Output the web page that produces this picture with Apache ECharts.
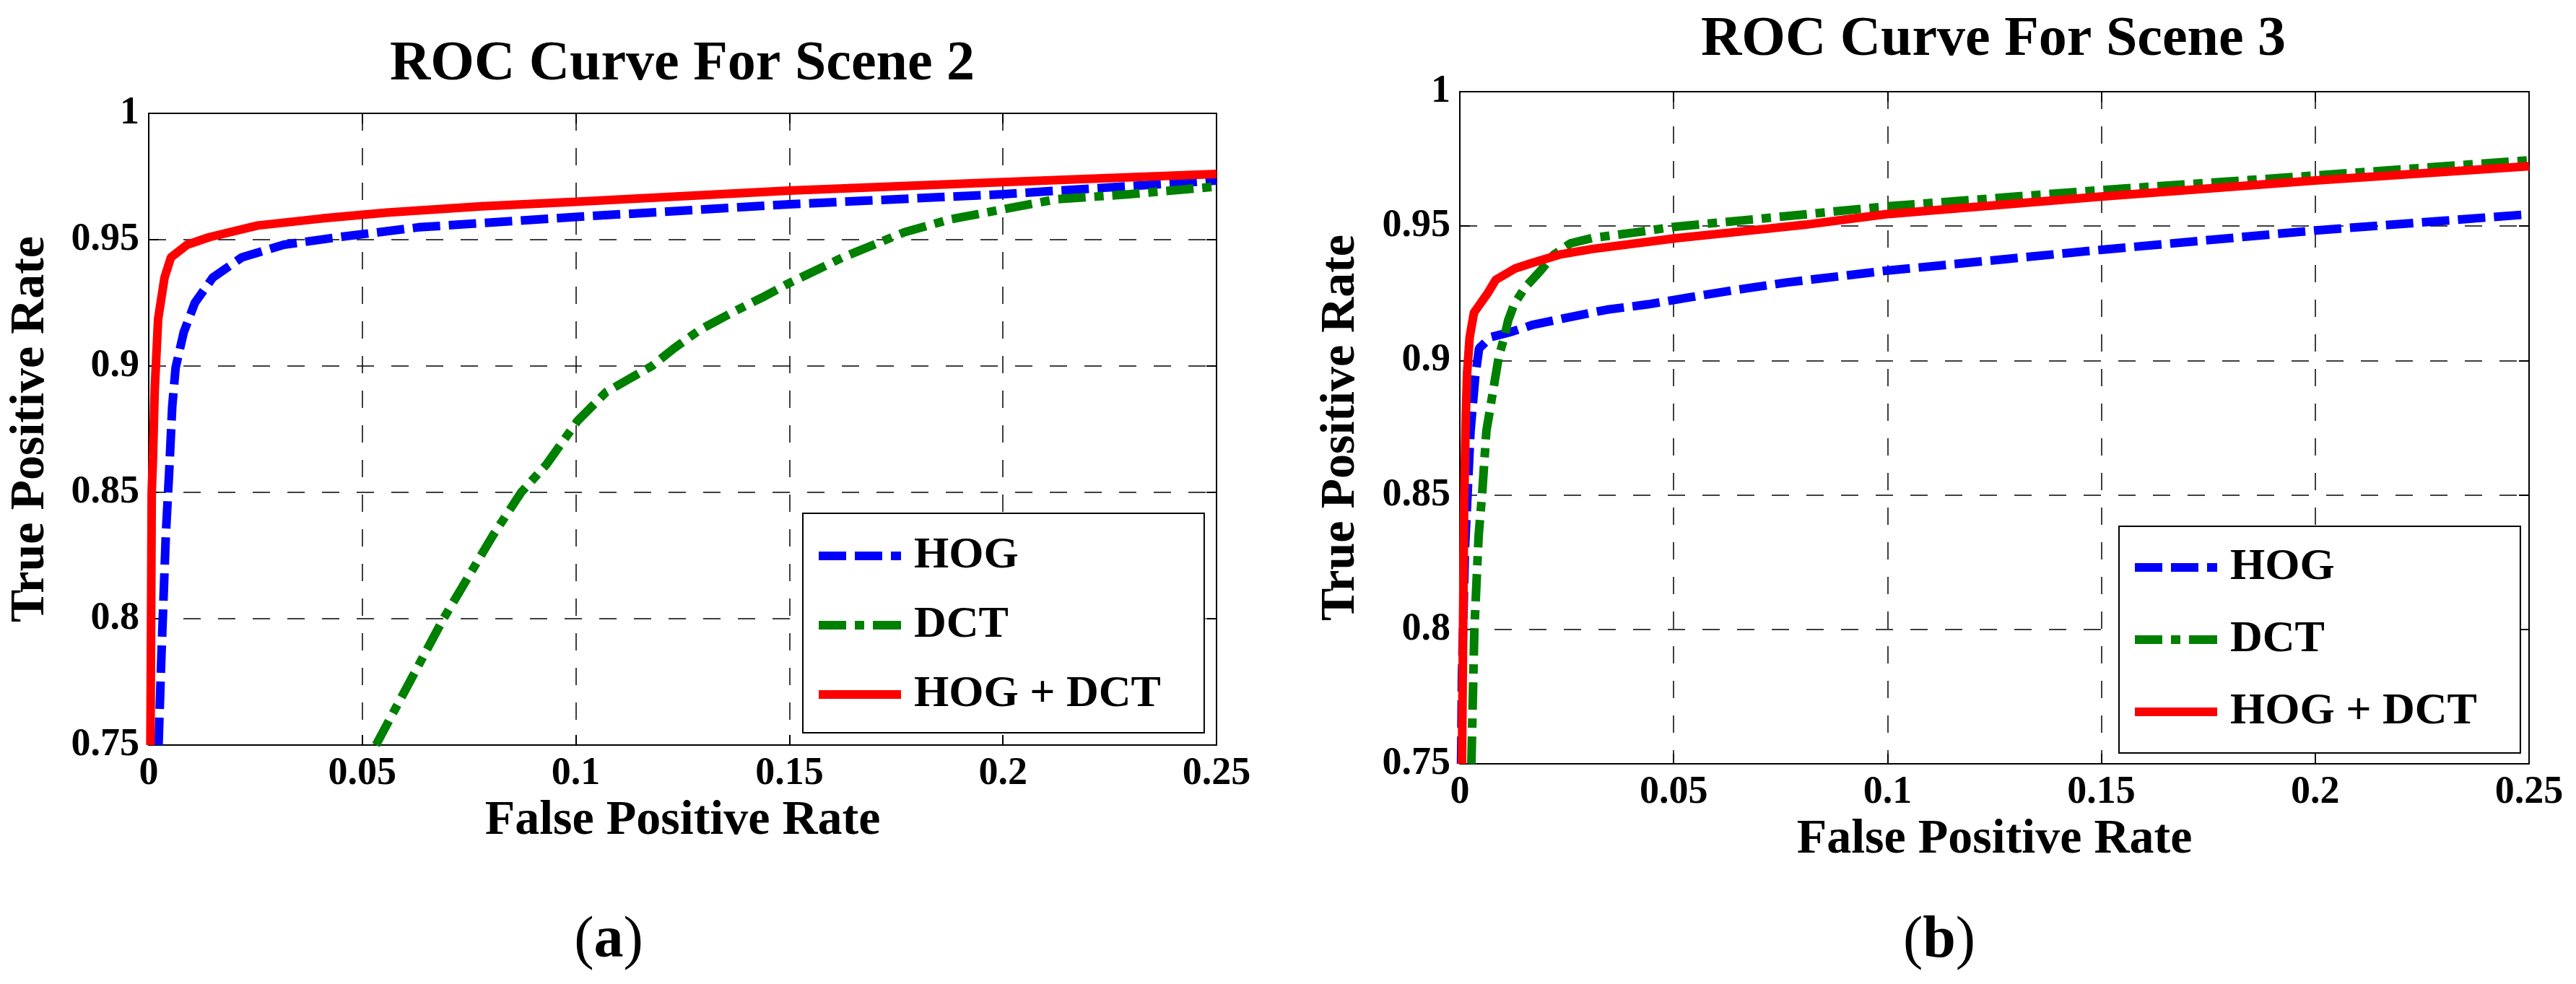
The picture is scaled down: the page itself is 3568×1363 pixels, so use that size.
<!DOCTYPE html>
<html>
<head>
<meta charset="utf-8">
<title>ROC Curves</title>
<script src="https://cdn.jsdelivr.net/npm/echarts@6/dist/echarts.min.js"></script>
<style>
    html, body { margin: 0; padding: 0; background: #fff; }
    #chart { width: 3568px; height: 1363px; }
</style>
</head>
<body>
<div id="chart"></div>
<script>
// tick labels
var xTicks = ["0", "0.05", "0.1", "0.15", "0.2", "0.25"];
var yTicks = ["0.75", "0.8", "0.85", "0.9", "0.95", "1"];
var legendNames = ["HOG", "DCT", "HOG + DCT"];

// Scene 2 (a)
var s2HogFpr = [0.0023, 0.0029, 0.004, 0.0048, 0.0055, 0.0063, 0.0082, 0.0108, 0.015, 0.0218, 0.0316, 0.0444, 0.0632, 0.1, 0.15, 0.2, 0.25];
var s2HogTpr = [0.75, 0.782, 0.833, 0.8586, 0.884, 0.8994, 0.9134, 0.925, 0.935, 0.943, 0.948, 0.951, 0.9549, 0.959, 0.964, 0.968, 0.9734];
var s2DctFpr = [0.0532, 0.069, 0.0806, 0.0872, 0.0931, 0.1004, 0.1071, 0.1178, 0.1229, 0.129, 0.1364, 0.1443, 0.1497, 0.1625, 0.177, 0.1875, 0.2, 0.2125, 0.2296, 0.25];
var s2DctTpr = [0.75, 0.8, 0.833, 0.85, 0.861, 0.8783, 0.8897, 0.9, 0.9069, 0.9143, 0.921, 0.9277, 0.9326, 0.943, 0.953, 0.958, 0.962, 0.966, 0.968, 0.971];
var s2BothFpr = [0.0004, 0.0007, 0.001, 0.0014, 0.0022, 0.0037, 0.0052, 0.009, 0.0142, 0.0255, 0.0406, 0.0557, 0.078, 0.1, 0.15, 0.2, 0.25];
var s2BothTpr = [0.75, 0.85, 0.864, 0.8906, 0.9186, 0.935, 0.943, 0.948, 0.951, 0.9556, 0.9584, 0.9607, 0.9632, 0.965, 0.9694, 0.9728, 0.976];

// Scene 3 (b)
var s3HogFpr = [0.0003, 0.0005, 0.0012, 0.0025, 0.0036, 0.0045, 0.0072, 0.0117, 0.0169, 0.0246, 0.0343, 0.044, 0.0537, 0.0634, 0.0763, 0.0996, 0.15, 0.2, 0.25];
var s3HogTpr = [0.75, 0.7825, 0.83, 0.8737, 0.894, 0.9045, 0.9087, 0.9105, 0.9132, 0.9158, 0.9189, 0.9209, 0.9235, 0.926, 0.929, 0.9334, 0.9412, 0.9484, 0.9544];
var s3DctFpr = [0.0027, 0.0034, 0.0044, 0.0052, 0.0062, 0.0078, 0.0091, 0.0104, 0.0113, 0.0127, 0.0152, 0.0188, 0.022, 0.0259, 0.031, 0.0408, 0.0505, 0.0699, 0.0996, 0.15, 0.2, 0.25];
var s3DctTpr = [0.75, 0.8, 0.835, 0.85, 0.8737, 0.889, 0.9014, 0.9087, 0.9149, 0.9209, 0.9271, 0.9333, 0.9394, 0.9436, 0.9456, 0.9476, 0.9498, 0.9527, 0.9573, 0.9634, 0.9688, 0.9745];
var s3BothFpr = [0.0005, 0.001, 0.0014, 0.0017, 0.0023, 0.0033, 0.0065, 0.0084, 0.013, 0.0169, 0.0233, 0.031, 0.0505, 0.0634, 0.0807, 0.0996, 0.15, 0.2, 0.25];
var s3BothTpr = [0.75, 0.846, 0.8798, 0.8953, 0.9087, 0.9178, 0.925, 0.93, 0.9343, 0.9363, 0.9394, 0.9415, 0.9455, 0.9476, 0.9505, 0.9544, 0.961, 0.967, 0.9723];

var FONT = "Liberation Serif";
var COLORS = ["#0000ff", "#008000", "#ff0000"];
// legend samples drawn as filled paths (114 x 12)
var ICONS = [
    "path://M0,0h38v12h-38z M50,0h38v12h-38z M100,0h14v12h-14z",
    "path://M0,0h38v12h-38z M50,0h13v12h-13z M75,0h39v12h-39z",
    "path://M0,0h114v12h-114z"
];

function zip(xs, ys) {
    var out = [];
    for (var i = 0; i < xs.length; ++i) {
        out.push([xs[i], ys[i]]);
    }
    return out;
}

function tickText(list, min, step) {
    return function (v) {
        var idx = Math.round((v - min) / step);
        return list[idx] || "";
    };
}

// one subplot = bottom/top x axis + left/right y axis
function makeAxes(g, nameGapX, nameGapY) {
    var tick = { show: true, inside: true, length: 14, lineStyle: { color: "#000", width: 2 } };
    var line = { show: true, onZero: false, lineStyle: { color: "#000", width: 2 } };
    var grid = { show: true, lineStyle: { color: "#000", width: 1.5, type: [24, 24] } };
    var label = { fontFamily: FONT, fontWeight: "bold", fontSize: 54, lineHeight: 54, color: "#000" };
    var name = { fontFamily: FONT, fontWeight: "bold", fontSize: 68, lineHeight: 68, color: "#000" };
    var x = [
        {
            type: "value", gridIndex: g, position: "bottom", min: 0, max: 0.25, interval: 0.05,
            axisLine: line, axisTick: tick, splitLine: grid,
            axisLabel: Object.assign({ margin: 13, formatter: tickText(xTicks, 0, 0.05), showMinLabel: true, showMaxLabel: true }, label),
            name: "False Positive Rate", nameLocation: "middle", nameGap: nameGapX, nameTextStyle: name
        },
        {
            type: "value", gridIndex: g, position: "top", min: 0, max: 0.25, interval: 0.05,
            axisLine: line, axisTick: tick, splitLine: { show: false }, axisLabel: { show: false }
        }
    ];
    var y = [
        {
            type: "value", gridIndex: g, position: "left", min: 0.75, max: 1, interval: 0.05,
            axisLine: line, axisTick: tick, splitLine: grid,
            axisLabel: Object.assign({ margin: 13, formatter: tickText(yTicks, 0.75, 0.05), showMinLabel: true, showMaxLabel: true }, label),
            name: "True Positive Rate", nameLocation: "middle", nameRotate: 90, nameGap: nameGapY, nameTextStyle: name
        },
        {
            type: "value", gridIndex: g, position: "right", min: 0.75, max: 1, interval: 0.05,
            axisLine: line, axisTick: tick, splitLine: { show: false }, axisLabel: { show: false }
        }
    ];
    return { x: x, y: y };
}

function makeSeries(axisIdx, hog, dct, both) {
    var base = { type: "line", xAxisIndex: axisIdx, yAxisIndex: axisIdx, symbol: "none", showSymbol: false, silent: true, animation: false };
    return [
        Object.assign({ name: legendNames[0], data: hog, z: 3,
            lineStyle: { color: COLORS[0], width: 12, type: [38, 12], cap: "butt" }, itemStyle: { color: COLORS[0] } }, base),
        Object.assign({ name: legendNames[1], data: dct, z: 4,
            lineStyle: { color: COLORS[1], width: 12, type: [38, 12, 13, 12], cap: "butt" }, itemStyle: { color: COLORS[1] } }, base),
        Object.assign({ name: legendNames[2], data: both, z: 5,
            lineStyle: { color: COLORS[2], width: 12, type: "solid", cap: "butt" }, itemStyle: { color: COLORS[2] } }, base)
    ];
}

function makeLegend(left, top, gap, pad) {
    var data = [];
    for (var i = 0; i < legendNames.length; ++i) {
        data.push({ name: legendNames[i], icon: ICONS[i], itemStyle: { color: COLORS[i], borderWidth: 0 } });
    }
    return {
        orient: "vertical", left: left, top: top, data: data,
        backgroundColor: "#fff", borderColor: "#000", borderWidth: 2, borderRadius: 0,
        padding: pad, itemGap: gap, itemWidth: 114, itemHeight: 12, selectedMode: false,
        itemStyle: { borderWidth: 0 }, lineStyle: { width: 0, opacity: 0 },
        textStyle: { fontFamily: FONT, fontWeight: "bold", fontSize: 62, lineHeight: 70, color: "#000", padding: [0, 0, 0, 13] }
    };
}

var a2 = makeAxes(0, 69, 130);
var a3 = makeAxes(1, 71, 131);

var titleFont = { fontFamily: FONT, fontWeight: "bold", fontSize: 78, lineHeight: 78, color: "#000" };
var subRich = {
    p: { fontFamily: FONT, fontWeight: "normal", fontSize: 82, lineHeight: 82, color: "#000" },
    b: { fontFamily: FONT, fontWeight: "bold", fontSize: 82, lineHeight: 82, color: "#000" }
};

var option = {
    backgroundColor: "#fff",
    animation: false,
    title: [
        { text: "ROC Curve For Scene 2", left: 945, top: 51, textAlign: "center", textStyle: titleFont, padding: 0 },
        { text: "ROC Curve For Scene 3", left: 2761, top: 17, textAlign: "center", textStyle: titleFont, padding: 0 },
        { text: "{p|(}{b|a}{p|)}", left: 843, top: 1263, textAlign: "center", textStyle: { rich: subRich }, padding: 0 },
        { text: "{p|(}{b|b}{p|)}", left: 2686, top: 1263, textAlign: "center", textStyle: { rich: subRich }, padding: 0 }
    ],
    legend: [
        makeLegend(1112, 711, 26, [24, 60, 18, 22]),
        makeLegend(2935, 729, 30, [22, 60, 22, 22])
    ],
    grid: [
        { left: 206, top: 157, width: 1479, height: 875, containLabel: false },
        { left: 2022, top: 127, width: 1481, height: 931, containLabel: false }
    ],
    xAxis: a2.x.concat(a3.x),
    yAxis: a2.y.concat(a3.y),
    series: makeSeries(0, zip(s2HogFpr, s2HogTpr), zip(s2DctFpr, s2DctTpr), zip(s2BothFpr, s2BothTpr))
        .concat(makeSeries(2, zip(s3HogFpr, s3HogTpr), zip(s3DctFpr, s3DctTpr), zip(s3BothFpr, s3BothTpr)))
};

echarts.init(document.getElementById("chart")).setOption(option);
</script>
</body>
</html>
